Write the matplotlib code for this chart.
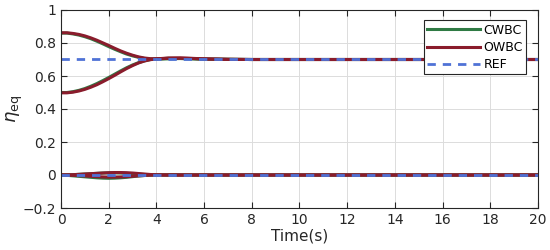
import numpy as np
import matplotlib.pyplot as plt

# time samples
t = [0, 0.25, 0.5, 0.75, 1.0, 1.25, 1.5, 1.75, 2.0, 2.25, 2.5, 2.75, 3.0, 3.25,
     3.5, 3.75, 4.0, 4.5, 5.0, 5.5, 6.0, 7.0, 8.0, 10.0, 12.0, 14.0, 16.0, 18.0, 20.0]

# CWBC (green)
cw_hi = [0.86, 0.86, 0.855, 0.848, 0.838, 0.826, 0.811, 0.795, 0.778, 0.762, 0.747, 0.733,
         0.722, 0.713, 0.706, 0.703, 0.702, 0.704, 0.706, 0.705, 0.703, 0.701, 0.700, 0.700,
         0.700, 0.700, 0.700, 0.700, 0.700]
cw_lo = [0.50, 0.50, 0.505, 0.513, 0.524, 0.538, 0.554, 0.572, 0.591, 0.611, 0.631, 0.650,
         0.667, 0.681, 0.692, 0.700, 0.704, 0.707, 0.706, 0.704, 0.702, 0.701, 0.700, 0.700,
         0.700, 0.700, 0.700, 0.700, 0.700]
cw_z1 = [0, -0.002, -0.005, -0.008, -0.011, -0.014, -0.017, -0.019, -0.020, -0.019, -0.017,
         -0.014, -0.010, -0.006, -0.003, -0.001, 0.001, 0.002, 0.001, 0.000, 0, 0, 0, 0, 0,
         0, 0, 0, 0]
cw_z2 = [0, 0.001, 0.002, 0.004, 0.006, 0.008, 0.010, 0.012, 0.013, 0.013, 0.012, 0.010,
         0.008, 0.005, 0.003, 0.001, 0.000, -0.001, 0.000, 0.000, 0, 0, 0, 0, 0, 0, 0, 0, 0]

# OWBC (dark red)
ow_hi = [0.862, 0.862, 0.858, 0.852, 0.843, 0.831, 0.817, 0.801, 0.785, 0.768, 0.752, 0.738,
         0.726, 0.716, 0.709, 0.705, 0.704, 0.707, 0.709, 0.707, 0.704, 0.701, 0.700, 0.700,
         0.700, 0.700, 0.700, 0.700, 0.700]
ow_lo = [0.498, 0.498, 0.502, 0.509, 0.519, 0.532, 0.547, 0.565, 0.584, 0.604, 0.625, 0.645,
         0.663, 0.679, 0.691, 0.699, 0.704, 0.709, 0.709, 0.706, 0.703, 0.701, 0.700, 0.700,
         0.700, 0.700, 0.700, 0.700, 0.700]
ow_z1 = [0, 0.001, 0.002, 0.004, 0.006, 0.008, 0.010, 0.012, 0.014, 0.015, 0.015, 0.014,
         0.012, 0.009, 0.006, 0.003, 0.001, -0.001, -0.001, 0.000, 0, 0, 0, 0, 0, 0, 0, 0, 0]
ow_z2 = [0, -0.001, -0.002, -0.004, -0.006, -0.008, -0.010, -0.012, -0.013, -0.013, -0.012,
         -0.010, -0.008, -0.005, -0.003, -0.001, 0.000, 0.001, 0.001, 0.000, 0, 0, 0, 0, 0,
         0, 0, 0, 0]

ref_t = [0, 20]
ref_hi = [0.7, 0.7]
ref_lo = [0.0, 0.0]

c_cw = '#2f7a44'
c_ow = '#8a1c2c'
c_ref = '#4f72d6'

fig = plt.figure(figsize=(5.5, 2.5), dpi=100)
ax = fig.add_axes([0.111, 0.168, 0.867, 0.792])

lw = 2.2
ax.plot(t, cw_hi, color=c_cw, lw=lw, label='CWBC')
ax.plot(t, cw_lo, color=c_cw, lw=lw)
ax.plot(t, cw_z1, color=c_cw, lw=lw)
ax.plot(t, cw_z2, color=c_cw, lw=lw)
ax.plot(t, ow_hi, color=c_ow, lw=lw, label='OWBC')
ax.plot(t, ow_lo, color=c_ow, lw=lw)
ax.plot(t, ow_z1, color=c_ow, lw=lw)
ax.plot(t, ow_z2, color=c_ow, lw=lw)
ax.plot(ref_t, ref_hi, color=c_ref, lw=2, ls=(0, (3, 2.5)), label='REF')
ax.plot(ref_t, ref_lo, color=c_ref, lw=2, ls=(0, (3, 2.5)))

ax.set_xlim(0, 20)
ax.set_ylim(-0.2, 1)
ax.set_xticks(np.arange(0, 21, 2))
ax.set_yticks([-0.2, 0, 0.2, 0.4, 0.6, 0.8, 1])
ax.set_yticklabels(['\u22120.2', '0', '0.2', '0.4', '0.6', '0.8', '1'])
ax.grid(True, color='#dcdcdc', lw=0.7)
ax.set_axisbelow(True)
ax.tick_params(direction='in', top=True, right=True, labelsize=10, colors='#262626',
               length=4, width=0.8)
for s in ax.spines.values():
    s.set_color('#262626')
    s.set_linewidth(0.8)
ax.set_xlabel('Time(s)', fontsize=11, color='#262626', labelpad=1)
ax.set_ylabel(r'$\eta_{\rm eq}$', fontsize=13, color='#262626', labelpad=0)
ax.yaxis.set_label_coords(-0.075, 0.5)

leg = ax.legend(loc='upper right', fontsize=9, handlelength=4.2, fancybox=False,
                framealpha=1, edgecolor='#262626', borderpad=0.25, labelspacing=0.35,
                handletextpad=0.3, borderaxespad=0.2, bbox_to_anchor=(0.98, 0.96))
leg.get_frame().set_linewidth(0.8)

fig.savefig('out.png', dpi=100)
